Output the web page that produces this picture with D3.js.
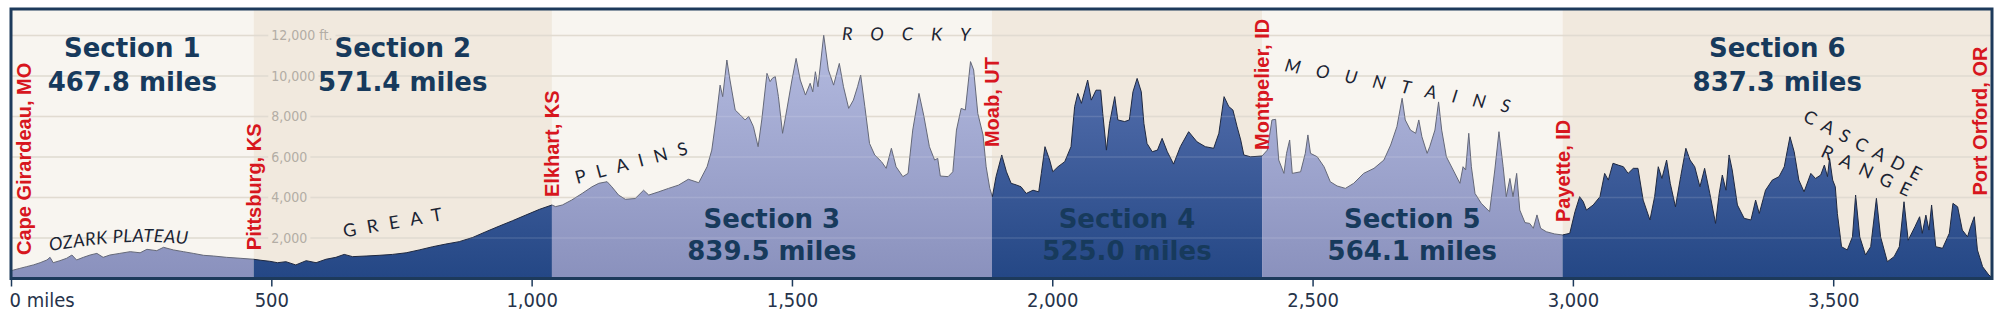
<!DOCTYPE html>
<html lang="en">
  <head>
    <meta charset="UTF-8" />
    <title>TransAmerica Trail elevation profile</title>
    <style>
      body {
        margin: 0;
        background: #ffffff;
      }
      #chart {
        width: 2000px;
        height: 312px;
      }
    </style>
  </head>
  <body>
    <div id="chart"></div>
    <script src="https://d3js.org/d3.v7.min.js"></script>
    <script>
      // sections
      const sectionNames = ["Section 1", "Section 2", "Section 3", "Section 4", "Section 5", "Section 6"];
      const sectionLength = [467.8, 571.4, 839.5, 525.0, 564.1, 837.3];
      const sectionEdges = [0, 466, 1039, 1884, 2403, 2980, 3805]; // miles
      const sectionLabelTop = [true, true, false, false, false, true];

      // towns at the section breaks
      const cities = ["Cape Girardeau, MO", "Pittsburg, KS", "Elkhart, KS", "Moab, UT", "Montpelier, ID", "Payette, ID", "Port Orford, OR"];
      const cityMiles = [24, 466, 1039, 1884, 2403, 2980, 3781];
      const cityLabelFt = [1160, 1400, 4020, 6490, 6350, 2790, 4100];

      // axes
      const tickMiles = [0, 500, 1000, 1500, 2000, 2500, 3000, 3500];
      const tickLabels = ["0 miles", "500", "1,000", "1,500", "2,000", "2,500", "3,000", "3,500"];
      const gridFt = [2000, 4000, 6000, 8000, 10000, 12000];
      const gridLabels = ["2,000", "4,000", "6,000", "8,000", "10,000", "12,000 ft."];
      const gridLabelMile = 500;

      // elevation profile (miles, feet)
      const profileMiles = [
        0, 5, 17, 30, 43, 56, 69, 75, 81, 94, 107, 117, 126, 139, 152, 165, 177, 190, 209, 229, 248, 261, 280, 293, 312, 331, 350, 370, 389, 414, 440, 466,
        480, 497, 512, 528, 547, 567, 586, 605, 624, 640, 656, 682, 707, 733, 759, 784, 810, 835, 861, 887, 912, 938, 963, 989, 1015, 1039,
        1046, 1059, 1077, 1097, 1116, 1129, 1145, 1154, 1167, 1180, 1199, 1215, 1225, 1244, 1263, 1282, 1301, 1321, 1337, 1346, 1354, 1362, 1367, 1375,
        1381, 1391, 1401, 1410, 1417, 1426, 1435, 1442, 1452, 1458, 1462, 1468, 1474, 1482, 1490, 1500, 1508, 1516, 1526, 1535, 1540, 1545, 1550, 1561,
        1570, 1580, 1591, 1599, 1609, 1618, 1626, 1632, 1640, 1649, 1659, 1672, 1681, 1691, 1700, 1713, 1723, 1732, 1744, 1753, 1764, 1774, 1780, 1785,
        1800, 1809, 1816, 1825, 1833, 1843, 1849, 1857, 1867, 1873, 1880, 1885,
        1892, 1903, 1912, 1921, 1931, 1940, 1950, 1963, 1974, 1979, 1986, 1995, 2001, 2011, 2024, 2036, 2043, 2049, 2056, 2068, 2075, 2084, 2093, 2097,
        2104, 2110, 2120, 2126, 2139, 2148, 2155, 2163, 2171, 2176, 2182, 2192, 2202, 2211, 2221, 2233, 2246, 2262, 2278, 2294, 2310, 2320, 2330, 2339,
        2347, 2355, 2362, 2368, 2381, 2403,
        2413, 2422, 2429, 2435, 2445, 2450, 2456, 2461, 2477, 2486, 2491, 2496, 2509, 2522, 2534, 2547, 2563, 2579, 2598, 2618, 2637, 2650, 2662, 2672,
        2678, 2688, 2698, 2704, 2710, 2720, 2725, 2735, 2742, 2748, 2757, 2770, 2783, 2789, 2794, 2800, 2805, 2812, 2824, 2840, 2850, 2858, 2866, 2872,
        2879, 2885, 2892, 2898, 2908, 2917, 2924, 2931, 2938, 2949, 2965, 2980,
        2994, 3004, 3013, 3020, 3026, 3039, 3052, 3061, 3068, 3077, 3087, 3097, 3106, 3116, 3125, 3135, 3148, 3157, 3164, 3171, 3180, 3187, 3197, 3207,
        3217, 3225, 3234, 3244, 3253, 3263, 3274, 3281, 3287, 3294, 3300, 3306, 3316, 3329, 3342, 3351, 3358, 3370, 3383, 3396, 3406, 3412, 3417, 3425,
        3434, 3444, 3457, 3466, 3476, 3483, 3489, 3493, 3499, 3504, 3508, 3516, 3527, 3537, 3543, 3551, 3562, 3572, 3583, 3591, 3604, 3617, 3627, 3636,
        3644, 3657, 3666, 3671, 3678, 3684, 3689, 3697, 3710, 3723, 3730, 3739, 3748, 3758, 3764, 3771, 3777, 3787, 3799, 3805
      ];
      const profileFt = [
        380, 420, 500, 585, 670, 780, 915, 1045, 780, 880, 1000, 1160, 915, 1045, 1160, 1240, 1045, 1160, 1240, 1325, 1270, 1440, 1375, 1540, 1410, 1325, 1240, 1145, 1110, 1045, 1000, 950,
        900, 850, 780, 830, 670, 880, 780, 950, 1045, 1190, 1080, 1110, 1145, 1190, 1270, 1410, 1570, 1700, 1820, 2030, 2310, 2590, 2850, 3135, 3415, 3630,
        3550, 3630, 3875, 4200, 4530, 4700, 4780, 4530, 4120, 3910, 3950, 4360, 4120, 4280, 4450, 4610, 4900, 4730, 5520, 6340, 7830, 9550, 8980, 10790,
        9800, 8320, 8070, 7830, 8000, 7500, 6510, 7830, 10130, 9720, 9880, 9970, 8980, 7170, 8320, 9800, 10870, 9800, 9060, 9640, 9220, 10210, 9470, 12020,
        10300, 9550, 10620, 9470, 8400, 8810, 9470, 10050, 8490, 6670, 6100, 5770, 5440, 6430, 5520, 5030, 5190, 7330, 9140, 8070, 6510, 5850, 5930, 5060,
        5030, 5270, 7330, 8400, 8320, 10710, 10300, 8150, 7090, 5520, 4450, 4040,
        5030, 6100, 5270, 4700, 4620, 4530, 4200, 4360, 4280, 5190, 6510, 5850, 5270, 5520, 5770, 6510, 8490, 9140, 8650, 9800, 8810, 9300, 9300, 8150,
        6340, 7660, 8980, 7830, 7750, 7830, 9220, 9880, 9220, 7660, 6670, 6260, 6340, 6920, 6260, 5650, 6510, 7250, 6750, 6510, 6430, 7170, 8980, 8490,
        8320, 7500, 6840, 6100, 6010, 6050,
        6340, 7830, 7860, 5850, 5190, 6180, 6840, 5190, 5270, 6180, 7090, 6180, 6010, 5520, 4780, 4570, 4450, 4700, 5190, 5440, 5850, 6590, 7500, 8900,
        7830, 7330, 7170, 7830, 7000, 6180, 6510, 7330, 8720, 7330, 6010, 5360, 4700, 5520, 5360, 7170, 5520, 4200, 3710, 3300, 5360, 7250, 5520, 4040,
        4940, 4040, 5190, 3380, 2760, 2720, 2480, 3140, 2480, 2310, 2200, 2150,
        2230, 3300, 4040, 3790, 3380, 3630, 4040, 5190, 4860, 5690, 5600, 5520, 5190, 5440, 5440, 3870, 2890, 4040, 5520, 4940, 5850, 4700, 3540, 5030,
        6430, 5850, 5520, 4530, 5440, 4200, 2720, 4200, 5110, 4360, 6100, 5360, 3630, 2970, 2890, 3870, 3210, 4360, 4860, 5030, 5520, 6340, 7000, 6260,
        4860, 4280, 5190, 4940, 5110, 5600, 5030, 5930, 4860, 4530, 3210, 1570, 1410, 2060, 4120, 2060, 1160, 1570, 3960, 2060, 830, 1080, 1570, 3790,
        1890, 2560, 3050, 2230, 3130, 2390, 3630, 1570, 1490, 2230, 3710, 3540, 2390, 2060, 2560, 3050, 1410, 580, 170, 50
      ];

      // region names along the route, baseline paths in (miles, feet)
      const regionText = ["OZARK PLATEAU", "GREAT", "PLAINS", "ROCKY", "MOUNTAINS", "CASCADE", "RANGE"];
      const regionPaths = [
        [[75, 1360], [229, 1800], [380, 1600]],
        [[640, 2030], [880, 3110]],
        [[1087, 4667], [1350, 6480]],
        [[1596, 11780], [1880, 11730]],
        [[2445, 10250], [2940, 7880]],
        [[3440, 7800], [3700, 4300]],
        [[3474, 6050], [3680, 3580]]
      ];
      const regionSpacing = [0.5, 11, 11, 18, 16, 8, 9];
      const regionItalic = [true, false, false, true, true, false, false];

      const width = 2000,
        height = 312;
      const frameTop = 9,
        frameBottom = 278.5;

      const bandColors = ["#f8f5f0", "#f1e9de"];
      const navy = "#173a5c";

      const x = d3.scaleLinear().domain([0, 3805]).range([11, 1992]);
      const y = d3.scaleLinear().domain([0, 12000]).range([278.5, 35.5]);

      const svg = d3
        .select("#chart")
        .append("svg")
        .attr("width", width)
        .attr("height", height);

      const defs = svg.append("defs");

      function gradient(id, top, bottom) {
        const g = defs
          .append("linearGradient")
          .attr("id", id)
          .attr("gradientUnits", "userSpaceOnUse")
          .attr("x1", 0)
          .attr("x2", 0)
          .attr("y1", y(12000))
          .attr("y2", frameBottom);
        g.append("stop").attr("offset", 0).attr("stop-color", top);
        g.append("stop").attr("offset", 1).attr("stop-color", bottom);
      }
      gradient("lightFill", "#b4bbe0", "#8a91bd");
      gradient("darkFill", "#5c75b3", "#244785");

      const sections = sectionNames.map((name, i) => ({
        name,
        miles: sectionLength[i].toFixed(1) + " miles",
        x0: x(sectionEdges[i]),
        x1: x(sectionEdges[i + 1]),
        top: sectionLabelTop[i],
        dark: i % 2 === 1,
        i
      }));

      sections.forEach((s) => {
        defs
          .append("clipPath")
          .attr("id", "clip" + s.i)
          .append("rect")
          .attr("x", s.x0)
          .attr("y", 0)
          .attr("width", s.x1 - s.x0)
          .attr("height", frameBottom);
      });

      // background bands
      svg
        .selectAll(".band")
        .data(sections)
        .enter()
        .append("rect")
        .attr("class", "band")
        .attr("x", (d) => d.x0)
        .attr("y", frameTop)
        .attr("width", (d) => d.x1 - d.x0)
        .attr("height", frameBottom - frameTop)
        .attr("fill", (d) => bandColors[d.i % 2]);

      // grid lines
      svg
        .selectAll(".grid")
        .data(gridFt)
        .enter()
        .append("line")
        .attr("class", "grid")
        .attr("x1", x(0))
        .attr("x2", x(3805))
        .attr("y1", (d) => y(d))
        .attr("y2", (d) => y(d))
        .attr("stroke", "#ddd6cb")
        .attr("stroke-width", 1.5);

      const profile = profileMiles.map((m, i) => ({ m, ft: profileFt[i] }));

      const area = d3
        .area()
        .x((d) => x(d.m))
        .y0(frameBottom)
        .y1((d) => y(d.ft));
      const line = d3
        .line()
        .x((d) => x(d.m))
        .y((d) => y(d.ft));

      sections.forEach((s) => {
        const g = svg.append("g").attr("clip-path", "url(#clip" + s.i + ")");
        g.append("path")
          .datum(profile)
          .attr("d", area)
          .attr("fill", s.dark ? "url(#darkFill)" : "url(#lightFill)");
        g.append("path")
          .datum(profile)
          .attr("d", line)
          .attr("fill", "none")
          .attr("stroke", s.dark ? "#1f2940" : "#646878")
          .attr("stroke-width", 1);
      });

      // faint grid showing through the profile
      svg
        .selectAll(".gridOver")
        .data(gridFt)
        .enter()
        .append("line")
        .attr("class", "gridOver")
        .attr("x1", x(0))
        .attr("x2", x(3805))
        .attr("y1", (d) => y(d))
        .attr("y2", (d) => y(d))
        .attr("stroke", "#ffffff")
        .attr("stroke-opacity", 0.13)
        .attr("stroke-width", 1.5);

      // elevation labels
      const gl = svg
        .selectAll(".gridLabel")
        .data(gridFt)
        .enter()
        .append("g")
        .attr("class", "gridLabel")
        .attr("transform", (d) => `translate(${x(gridLabelMile)},${y(d)})`);
      gl.append("text")
        .attr("x", 0)
        .attr("dy", "0.35em")
        .style("font-family", "'Liberation Sans Narrow', 'DejaVu Sans Condensed', sans-serif")
        .style("font-size", "14px")
        .attr("fill", "#b3ada5")
        .text((d, i) => gridLabels[i])
        .each(function () {
          const b = this.getBBox();
          d3.select(this.parentNode)
            .insert("rect", "text")
            .attr("x", b.x - 3)
            .attr("y", -2)
            .attr("width", b.width + 6)
            .attr("height", 4)
            .attr("fill", bandColors[1]);
        });

      // section labels
      const sl = svg
        .selectAll(".sectionLabel")
        .data(sections)
        .enter()
        .append("text")
        .attr("class", "sectionLabel")
        .attr("text-anchor", "middle")
        .style("font-family", "'DejaVu Sans', sans-serif")
        .style("font-weight", "bold")
        .style("font-size", "26px")
        .attr("fill", navy);
      sl.append("tspan")
        .attr("x", (d) => (d.x0 + d.x1) / 2)
        .attr("y", (d) => (d.top ? 57 : 228))
        .text((d) => d.name);
      sl.append("tspan")
        .attr("x", (d) => (d.x0 + d.x1) / 2)
        .attr("y", (d) => (d.top ? 91 : 260))
        .text((d) => d.miles);

      // region names
      regionText.forEach((t, i) => {
        const pts = regionPaths[i].map((p) => [x(p[0]), y(p[1])]);
        const gen = d3.line().curve(pts.length > 2 ? d3.curveNatural : d3.curveLinear);
        defs.append("path").attr("id", "region" + i).attr("d", gen(pts));
        svg
          .append("text")
          .style("font-family", "Lato, 'DejaVu Sans', sans-serif")
          .style("font-size", "18px")
          .style("font-style", regionItalic[i] ? "italic" : "normal")
          .style("letter-spacing", regionSpacing[i] + "px")
          .attr("fill", "#1b2433")
          .append("textPath")
          .attr("href", "#region" + i)
          .text(t);
      });

      // town names
      svg
        .selectAll(".city")
        .data(cities)
        .enter()
        .append("text")
        .attr("class", "city")
        .attr("transform", (d, i) => `translate(${x(cityMiles[i])},${y(cityLabelFt[i])}) rotate(-90)`)
        .attr("dy", "0.36em")
        .style("font-family", "'Liberation Sans', Arial, sans-serif")
        .style("font-weight", "bold")
        .style("font-size", "20px")
        .attr("fill", "#d7161e")
        .text((d) => d);

      // frame
      svg
        .append("rect")
        .attr("x", x(0))
        .attr("y", frameTop)
        .attr("width", x(3805) - x(0))
        .attr("height", frameBottom - frameTop)
        .attr("fill", "none")
        .attr("stroke", "#1d3a5b")
        .attr("stroke-width", 3);

      // x axis
      const axis = svg
        .append("g")
        .attr("transform", `translate(0,${frameBottom + 1})`)
        .call(
          d3
            .axisBottom(x)
            .tickValues(tickMiles)
            .tickFormat((d, i) => tickLabels[i])
            .tickSize(7)
        );
      axis.select(".domain").remove();
      axis.selectAll(".tick line").attr("stroke", "#1d3a5b").attr("stroke-width", 1.5);
      axis
        .selectAll(".tick text")
        .attr("y", 27)
        .attr("dy", 0)
        .style("font-family", "'Liberation Sans Narrow', 'DejaVu Sans Condensed', sans-serif")
        .style("font-size", "20px")
        .attr("fill", "#26334a");
      axis
        .selectAll(".tick text")
        .filter((d) => d === 0)
        .attr("text-anchor", "start")
        .attr("x", -2);
    </script>
  </body>
</html>
